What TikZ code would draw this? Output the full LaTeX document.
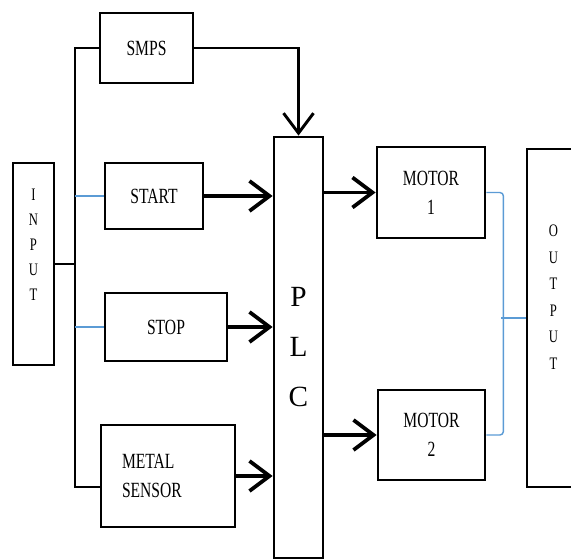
\documentclass[tikz,border=0pt]{standalone}
\usepackage{fontspec}
\setmainfont{Liberation Serif}
\newfontfamily\narrowserif{Liberation Serif}[FakeStretch=0.72]
\usetikzlibrary{arrows.meta}
\definecolor{clrborder}{HTML}{000000}
\definecolor{clrlink}{HTML}{5B9BD5}

\begin{document}
\begin{tikzpicture}[
    x=0.03cm, y=-0.03cm,
    >={Straight Barb[length=0.6cm, width=0.9cm]},
    every node/.style={font=\narrowserif\fontsize{18.5}{25}\selectfont},
    block/.style={draw=clrborder, line width=2.4pt, align=center, inner sep=0pt},
    tallblock/.style={block, font=\narrowserif\fontsize{15}{21.3}\selectfont},
    wire/.style={line width=2.5pt, color=clrborder},
    arrow/.style={wire, line width=3.2pt, ->},
    link/.style={line width=1.2pt, color=clrlink, rounded corners=3pt},
]
\useasboundingbox (0,0) rectangle (571,559);
\node[tallblock, minimum width=1.23cm, minimum height=6.06cm] (n_input) at (33.5,264) {I\\N\\P\\U\\T\\[11pt]~};
\node[block, minimum width=2.79cm, minimum height=2.1cm] (n_smps) at (146.5,48) {SMPS};
\node[block, minimum width=2.94cm, minimum height=1.98cm] (n_start) at (154,196) {START};
\node[block, minimum width=3.66cm, minimum height=2.04cm] (n_stop) at (166,327) {STOP};
\node[block, minimum width=4.02cm, minimum height=3.06cm, align=left, text width=2.76cm, inner xsep=0.63cm] (n_sensor) at (168,476) {METAL\\SENSOR};
\node[block, minimum width=1.47cm, minimum height=12.63cm, font=\rmfamily\fontsize{25}{42.7}\selectfont] (n_plc) at (298.5,347.5) {P\\L\\C};
\node[block, minimum width=3.24cm, minimum height=2.73cm] (n_motor1) at (431,192.5) {MOTOR\\1};
\node[block, minimum width=3.21cm, minimum height=2.7cm] (n_motor2) at (431.5,435) {MOTOR\\2};
\node[tallblock, minimum width=1.59cm, minimum height=10.14cm, font=\narrowserif\fontsize{15}{22.7}\selectfont] (n_output) at (553.5,318) {O\\U\\T\\P\\U\\T\\[13pt]~};
\coordinate (bus_bot) at (75,487);
% input side
\draw[wire] (n_smps.west) -| (bus_bot) -- (bus_bot -| n_sensor.west);
\draw[wire] (n_input.east) -- (n_input.east -| bus_bot);
\draw[link] (n_start.west -| bus_bot) -- (n_start.west);
\draw[link] (n_stop.west -| bus_bot) -- (n_stop.west);
% into the PLC
\draw[wire, ->] (n_smps.east) -| (n_plc.north);
\draw[arrow] (n_start.east) -- (n_start.east -| n_plc.west);
\draw[arrow] (n_stop.east) -- (n_stop.east -| n_plc.west);
\draw[arrow] (n_sensor.east) -- (n_sensor.east -| n_plc.west);
% out of the PLC
\draw[arrow] (n_motor1.west -| n_plc.east) -- (n_motor1.west);
\draw[arrow] (n_motor2.west -| n_plc.east) -- (n_motor2.west);
\draw[link] (n_motor1.east) -- ++(17,0) |- (n_motor2.east);
\draw[link] (n_output.west) -- ++(-25,0);
\end{tikzpicture}
\end{document}
